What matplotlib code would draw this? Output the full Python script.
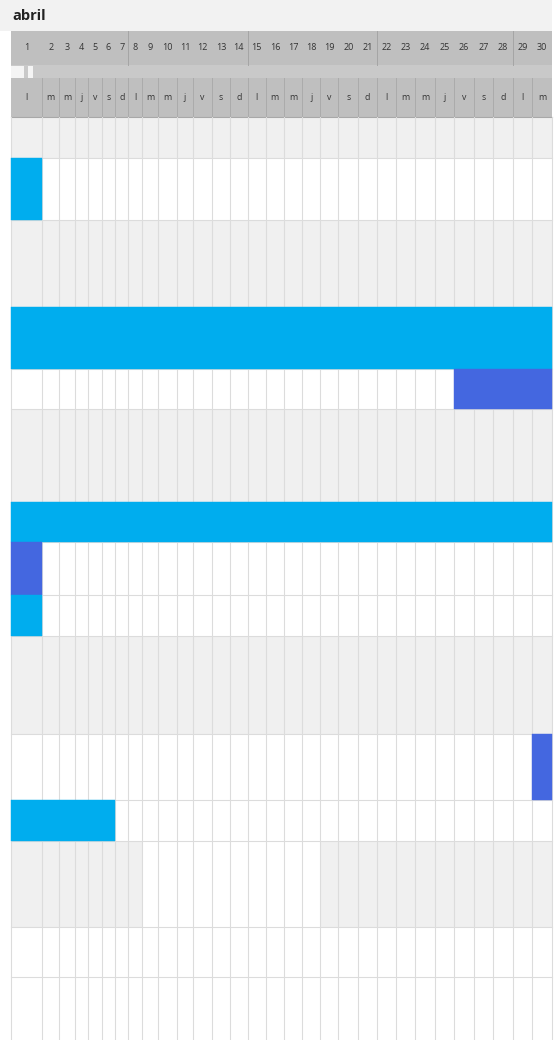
import numpy as np
import matplotlib.pyplot as plt
from matplotlib.patches import Rectangle

plt.rcParams['font.family'] = ['Open Sans', 'DejaVu Sans']

# data
month = "abril"
days = list(range(1, 31))
weekdays = ['l', 'm', 'm', 'j', 'v', 's', 'd'] * 4 + ['l', 'm']

# task bars: row index (1-based), first day, last day, kind
task_rows = [2, 4, 5, 7, 8, 9, 11, 12]
task_start = [1, 1, 26, 1, 1, 1, 30, 1]
task_end = [1, 30, 30, 30, 1, 1, 30, 6]
task_kind = ['a', 'a', 'b', 'a', 'b', 'a', 'b', 'a']

# shaded background rows and partial shading (row, first day, last day)
shaded_rows = [1, 3, 6, 10]
shaded_parts = [(13, 1, 8), (13, 19, 30)]

# layout (pixels)
col_widths = [31.6, 16.7, 16, 13.3, 13.4, 13.6, 13, 14, 16, 18.4, 16.6, 18.4,
              18.3, 17.7, 18, 18.3, 18.3, 18, 18, 20, 18.4, 19.3, 19.3, 19.3,
              19.6, 19.7, 19.3, 19.7, 19.3, 19.4]
row_heights = [40.4, 62.3, 86.5, 62.5, 40, 93, 40.3, 52.7, 40.7, 98.3, 66,
               40.7, 86, 50.6, 70]
x0 = 10.7
body_top = 117.3

colors = {'a': '#00adee', 'b': '#4467e0'}
shade = '#f0f0f0'
grid = '#dcdcdc'
head = '#bfbfbf'

xe = x0 + np.concatenate([[0], np.cumsum(col_widths)])
ye = body_top + np.concatenate([[0], np.cumsum(row_heights)])
x1 = xe[-1]

fig = plt.figure(figsize=(5.55, 10.4), dpi=100)
ax = fig.add_axes([0, 0, 1, 1])
ax.set_xlim(0, 555)
ax.set_ylim(1040, 0)
ax.axis('off')

# title band
ax.add_patch(Rectangle((0, 0), x1, 30.7, color='#f2f2f2', lw=0))
ax.text(12, 16, month, fontsize=10.5, fontweight='bold', color='#222222', va='center')

# header bands
ax.add_patch(Rectangle((x0, 30.7), x1 - x0, 34.5, color=head, lw=0))
ax.add_patch(Rectangle((x0, 65.2), x1 - x0, 13.1, color='#c9c9c9', lw=0))
ax.add_patch(Rectangle((x0, 78.3), x1 - x0, 39, color=head, lw=0))
ax.add_patch(Rectangle((10.5, 65.5), 13.5, 12.5, color='#f4f4f4', lw=0))
ax.add_patch(Rectangle((28, 65.5), 5, 12.5, color='#f4f4f4', lw=0))

for i, d in enumerate(days):
    xc = (xe[i] + xe[i + 1]) / 2
    ax.text(xc, 48, str(d), fontsize=6.5, color='#333333', ha='center', va='center')
    ax.text(xc, 98, weekdays[i], fontsize=6.3, color='#333333', ha='center', va='center')

for i in range(1, len(days)):
    ax.plot([xe[i], xe[i]], [78.3, body_top], color='#ababab', lw=0.7)
    if i % 7 == 0:
        ax.plot([xe[i], xe[i]], [30.7, 65.2], color='#a5a5a5', lw=0.7)
ax.plot([x0, x1], [body_top, body_top], color='#a8a8a8', lw=0.8)

# shaded rows
for r in shaded_rows:
    ax.add_patch(Rectangle((x0, ye[r - 1]), x1 - x0, row_heights[r - 1], color=shade, lw=0))
for r, a, b in shaded_parts:
    ax.add_patch(Rectangle((xe[a - 1], ye[r - 1]), xe[b] - xe[a - 1], row_heights[r - 1],
                           color=shade, lw=0))

# grid
for x in xe:
    ax.plot([x, x], [body_top, 1040], color=grid, lw=0.8, zorder=2)
for y in ye[1:-1]:
    ax.plot([x0, x1], [y, y], color=grid, lw=0.8, zorder=2)

# task bars
for r, a, b, k in zip(task_rows, task_start, task_end, task_kind):
    ax.add_patch(Rectangle((xe[a - 1], ye[r - 1]), xe[b] - xe[a - 1], row_heights[r - 1],
                           facecolor=colors[k], edgecolor=colors[k], lw=0.3, zorder=3))

fig.savefig('out.png', dpi=100)
